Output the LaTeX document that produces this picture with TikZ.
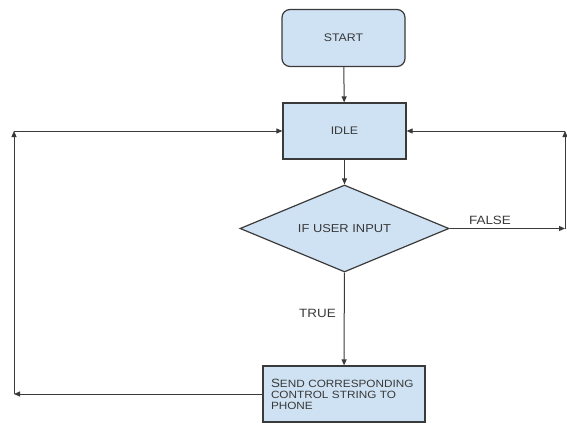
\documentclass[tikz,border=0pt]{standalone}
\usepackage{fontspec}
\setmainfont[FakeStretch=1.12]{Liberation Sans}
\usetikzlibrary{shapes.geometric,arrows.meta}
\definecolor{boxfill}{HTML}{CFE2F3}
\definecolor{boxline}{HTML}{3A3A3A}
\definecolor{txtgray}{HTML}{383838}

\begin{document}
\begin{tikzpicture}[x=1pt,y=-1pt,
    shape style/.style={draw=boxline,fill=boxfill,line width=1.2pt,text=txtgray,inner sep=0pt},
    stepbox/.style={shape style,rectangle,minimum width=123pt,minimum height=56pt,font=\fontsize{11}{12}\selectfont},
    arr/.style={draw=boxline,line width=1pt,-{Triangle[length=6pt,width=5pt]}},
    lbl/.style={text=txtgray,font=\fontsize{12}{13}\selectfont}]
    \useasboundingbox (0,0) rectangle (567,423);
    % the states
    \node[stepbox,rounded corners=8pt,minimum height=57pt] (start) at (343.5,38) {START};
    \node[stepbox] (idle) at (344.5,131) {IDLE};
    \node[shape style,diamond,aspect=2.4,minimum width=209pt,minimum height=87pt,font=\fontsize{11.5}{12}\selectfont] (input) at (344.5,228.5) {IF USER INPUT};
    \node[stepbox,minimum width=162pt,text width=146pt,align=left,font=\fontsize{10.5}{11}\selectfont] (send) at (344,394)
        {{\fontsize{12}{11}\selectfont S}END CORRESPONDING\\CONTROL STRING TO\\PHONE};
    % corners of the loops
    \coordinate (rbot) at (565,228.5);
    \coordinate (rtop) at (565,131);
    \coordinate (lbot) at (14,394);
    \coordinate (ltop) at (14,131);
    % arrows
    \draw[arr] (start) -- (idle);
    \draw[arr] (idle) -- (input);
    \draw[arr] (input) -- node[lbl,left,pos=0.44,inner sep=8pt] {TRUE} (send);
    \draw[arr] (input.east) -- node[lbl,above,pos=0.35] {FALSE} (rbot);
    \draw[arr] (rbot) -- (rtop);
    \draw[arr] (rtop) -- (idle.east);
    \draw[arr] (send.west) -- (lbot);
    \draw[arr] (lbot) -- (ltop);
    \draw[arr] (ltop) -- (idle.west);
\end{tikzpicture}
\end{document}
